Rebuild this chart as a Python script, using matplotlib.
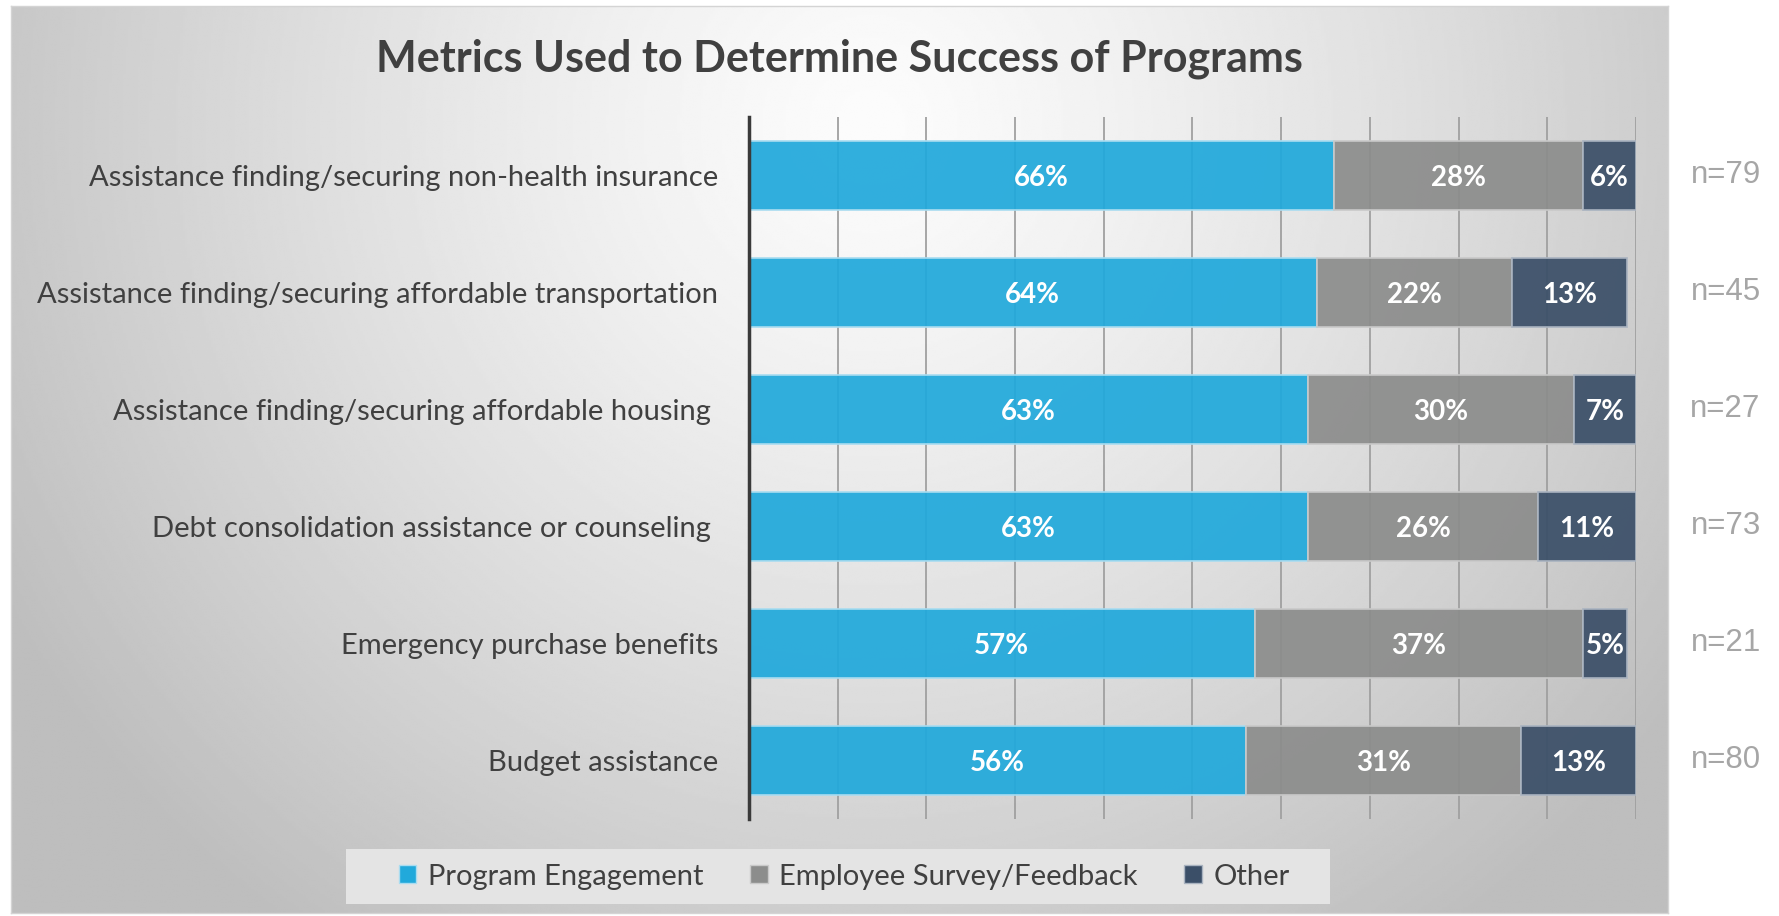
import numpy as np
import matplotlib
matplotlib.use("Agg")
import matplotlib.pyplot as plt
from matplotlib.patches import Patch, Rectangle
from matplotlib.colors import to_rgba
import matplotlib.transforms as mtransforms

plt.rcParams['font.family'] = ['Lato', 'DejaVu Sans']

# survey results, top row first
programs = [
    "Assistance finding/securing non-health insurance",
    "Assistance finding/securing affordable transportation",
    "Assistance finding/securing affordable housing ",
    "Debt consolidation assistance or counseling ",
    "Emergency purchase benefits",
    "Budget assistance",
]
engagement = [66, 64, 63, 63, 57, 56]
survey = [28, 22, 30, 26, 37, 31]
other = [6, 13, 7, 11, 5, 13]
n_resp = [79, 45, 27, 73, 21, 80]

series = ["Program Engagement", "Employee Survey/Feedback", "Other"]
colors = ["#21a9db", "#8c8d8c", "#3b4f68"]
edges = ["#a9dcf0", "#c9c9c9", "#a9b3c0"]

fig = plt.figure(figsize=(17.79, 9.16), dpi=100)
fig.patch.set_facecolor("white")

# grey radial background panel
bg = fig.add_axes([0.0062, 0.003, 0.9314, 0.9905], zorder=-5)
gx, gy = np.meshgrid(np.linspace(0, 1657, 700), np.linspace(0, 908, 400))
d = np.hypot(gx - 860, gy - 790)
shade = np.clip(252 - 55 * (d / 900) ** 1.25, 190, 252) / 255.0
bg.imshow(shade, cmap="gray", vmin=0, vmax=1, origin="lower",
          extent=[0, 1, 0, 1], aspect="auto", interpolation="bilinear")
bg.set_xlim(0, 1)
bg.set_ylim(0, 1)
for s in bg.spines.values():
    s.set_color("#d4d4d4")
    s.set_linewidth(1)
bg.set_xticks([])
bg.set_yticks([])

ax = fig.add_axes([0.421, 0.1059, 0.4986, 0.7664])
ax.patch.set_alpha(0)

y = np.arange(len(programs))
left = np.zeros(len(programs))
for vals, name, c, ec in zip([engagement, survey, other], series, colors, edges):
    vals = np.array(vals, dtype=float)
    bars = ax.barh(y, vals, left=left, height=0.59, color=to_rgba(c, 0.93),
                   edgecolor=ec, linewidth=1.2, label=name, zorder=3)
    for b, v in zip(bars, vals):
        ax.text(b.get_x() + b.get_width() / 2, b.get_y() + b.get_height() / 2 + 0.02,
                f"{v:.0f}%", ha="center", va="center", color="white",
                fontsize=20, fontweight="bold", zorder=4)
    left += vals

ax.set_xlim(0, 100)
ax.set_ylim(len(programs) - 0.5, -0.5)
ax.set_xticks(range(0, 101, 10))
ax.set_xticklabels([])
ax.tick_params(axis="x", length=0)
ax.grid(axis="x", color="#a0a0a0", linewidth=1.3, zorder=1)
ax.set_axisbelow(True)

ax.set_yticks(y)
ax.set_yticklabels(programs, fontsize=21, color="#404040")
ax.tick_params(axis="y", length=0, pad=22)

for side in ["top", "right", "bottom"]:
    ax.spines[side].set_visible(False)
ax.spines["left"].set_color("#3a3a3a")
ax.spines["left"].set_linewidth(2.5)
ax.spines["left"].set_zorder(5)

# respondent counts to the right of the panel
trans = mtransforms.blended_transform_factory(fig.transFigure, ax.transData)
for yi, n in zip(y, n_resp):
    ax.text(0.970, yi, f"n={n}", transform=trans, ha="center", va="center",
            fontsize=22.5, color="#a6a6a6", family="Liberation Sans")

fig.text(0.472, 0.936, "Metrics Used to Determine Success of Programs",
         ha="center", va="center", fontsize=31, fontweight="bold", color="#404040")

# legend strip
fig.patches.append(Rectangle((0.1945, 0.0131), 0.5531, 0.060, transform=fig.transFigure,
                             facecolor="#e4e4e4", edgecolor="none", zorder=-1))
handles = [Patch(facecolor=c, edgecolor=ec, linewidth=1) for c, ec in zip(colors, edges)]
leg = fig.legend(handles, series, loc="center", bbox_to_anchor=(0.4746, 0.0431),
                 ncol=3, frameon=False, fontsize=21, handlelength=0.6,
                 handleheight=0.6, handletextpad=0.4, columnspacing=1.6)
for t in leg.get_texts():
    t.set_color("#404040")

fig.savefig("out.png", dpi=100)
